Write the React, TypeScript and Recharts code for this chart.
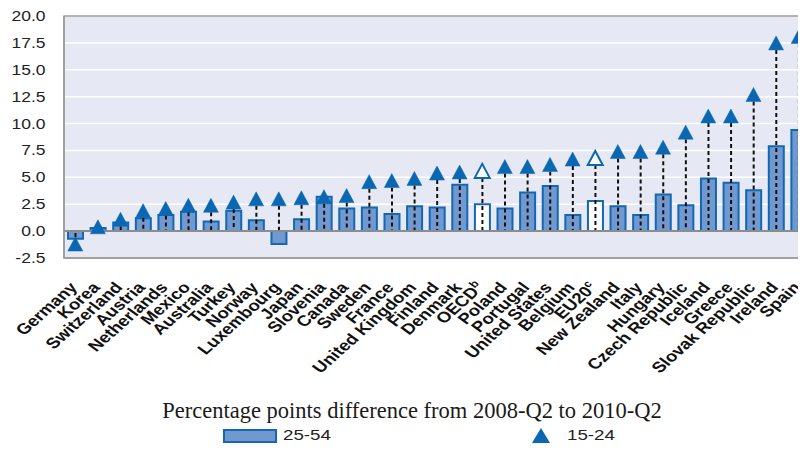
import {
  ComposedChart, Bar, Scatter, XAxis, YAxis, CartesianGrid, Cell,
  ReferenceLine, ReferenceArea,
} from 'recharts'

const countries = [
  'Germany', 'Korea', 'Switzerland', 'Austria', 'Netherlands', 'Mexico', 'Australia',
  'Turkey', 'Norway', 'Luxembourg', 'Japan', 'Slovenia', 'Canada', 'Sweden', 'France',
  'United Kingdom', 'Finland', 'Denmark', 'OECD', 'Poland', 'Portugal', 'United States',
  'Belgium', 'EU20', 'New Zealand', 'Italy', 'Hungary', 'Czech Republic', 'Iceland',
  'Greece', 'Slovak Republic', 'Ireland', 'Spain',
]

// 25-54 (bars)
const prime = [
  -0.7, 0.3, 0.8, 1.2, 1.5, 1.8, 0.9, 1.9, 1.0, -1.2, 1.1, 3.2, 2.1, 2.2, 1.6,
  2.3, 2.2, 4.3, 2.5, 2.1, 3.6, 4.2, 1.5, 2.8, 2.3, 1.5, 3.4, 2.4, 4.9, 4.5, 3.8, 7.9, 9.4,
]

// 15-24 (triangles)
const youth = [
  -1.2, 0.4, 1.1, 1.9, 2.1, 2.4, 2.4, 2.7, 3.0, 3.0, 3.1, 3.2, 3.3, 4.6, 4.7,
  4.9, 5.4, 5.5, 5.6, 6.0, 6.0, 6.2, 6.7, 6.8, 7.4, 7.4, 7.8, 9.2, 10.7, 10.7, 12.7, 17.5, 18.1,
]

const yTicks = [-2.5, 0, 2.5, 5, 7.5, 10, 12.5, 15, 17.5, 20]
const superscripts: Record<string, string> = { OECD: 'b', EU20: 'c' }
const hollow = ['OECD', 'EU20']

const data = countries.map((c, i) => ({ country: c, prime: prime[i], youth: youth[i] }))

const BAR_FILL = '#7198CF'
const BAR_STROKE = '#1368B2'
const TRI = '#0A67B2'
const SANS = '"Liberation Sans", Arial, sans-serif'

function XTick({ x, y, payload }: any) {
  const name = payload.value as string
  const sup = superscripts[name]
  return (
    <g transform={`translate(${x + 3},${y + 30}) scale(1.25,1) rotate(-48)`}>
      <text textAnchor="end" fontFamily={SANS} fontSize={15} fontWeight="bold" fill="#111">
        {name}
        {sup && <tspan dy={-6} fontSize={10}>{sup}</tspan>}
      </text>
    </g>
  )
}

function YTick({ x, y, payload }: any) {
  return (
    <g transform={`translate(${x - 18.5},${y}) scale(1.25,1)`}>
      <text textAnchor="end" dy={5} fontFamily={SANS} fontSize={14} fill="#222">
        {Number(payload.value).toFixed(1)}
      </text>
    </g>
  )
}

function DashShape({ x, y, width, height }: any) {
  const cx = x + width / 2
  return <line x1={cx} x2={cx} y1={y} y2={y + height} stroke="#111" strokeWidth={2} strokeDasharray="4 3" />
}

function Triangle({ cx, cy, payload }: any) {
  const open = hollow.includes(payload.country)
  return (
    <polygon
      points={`${cx},${cy - 7} ${cx - 7.5},${cy + 7} ${cx + 7.5},${cy + 7}`}
      fill={open ? '#fff' : TRI}
      stroke={TRI}
      strokeWidth={open ? 2 : 0.5}
    />
  )
}

export default function App() {
  return (
    <div style={{ position: 'relative', width: 806, height: 464, margin: -8, overflow: 'hidden', background: '#fff' }}>
      <ComposedChart width={812} height={464} data={data} margin={{ top: 16, right: 2, left: 0, bottom: 0 }} barGap={-15}>
        <CartesianGrid vertical={false} stroke="#fff" strokeWidth={1.5} fill="#E6E9F3" />
        <XAxis
          dataKey="country" interval={0} tickLine={false} tickSize={0} tickMargin={0} height={206}
          axisLine={{ stroke: '#9a9a9a', strokeWidth: 1.5 }} tick={<XTick />}
        />
        <YAxis
          domain={[-2.5, 20]} ticks={yTicks} width={64} tickLine={false} tickSize={0} tickMargin={0}
          axisLine={{ stroke: '#9a9a9a', strokeWidth: 1.5 }} tick={<YTick />}
        />
        <ReferenceArea y1={-2.5} y2={20} fill="none" stroke="#9a9a9a" strokeWidth={1.5} />
        <ReferenceLine y={0} stroke="#8c8c8c" strokeWidth={2} />
        <Bar dataKey="prime" barSize={15} fill={BAR_FILL} stroke={BAR_STROKE} strokeWidth={2} isAnimationActive={false}>
          {data.map((d) => (
            <Cell key={d.country} fill={hollow.includes(d.country) ? '#fff' : BAR_FILL} />
          ))}
        </Bar>
        <Bar dataKey="youth" barSize={15} shape={<DashShape />} isAnimationActive={false} />
        <Scatter dataKey="youth" shape={<Triangle />} isAnimationActive={false} />
      </ComposedChart>

      {/* title + legend */}
      <svg width={806} height={464} style={{ position: 'absolute', left: 0, top: 0, pointerEvents: 'none' }}>
        <text x={412} y={418} textAnchor="middle" fontFamily='"Liberation Serif", "Times New Roman", serif' fontSize={22.5} fill="#1a1a1a">
          Percentage points difference from 2008-Q2 to 2010-Q2
        </text>
        <rect x={224} y={430} width={52} height={12} fill={BAR_FILL} stroke={BAR_STROKE} strokeWidth={2} />
        <text transform="translate(283,440) scale(1.25,1)" fontFamily={SANS} fontSize={15} fill="#222">25-54</text>
        <polygon points="532,443 541,428 550,443" fill={TRI} />
        <text transform="translate(567,440) scale(1.25,1)" fontFamily={SANS} fontSize={15} fill="#222">15-24</text>
      </svg>
    </div>
  )
}
